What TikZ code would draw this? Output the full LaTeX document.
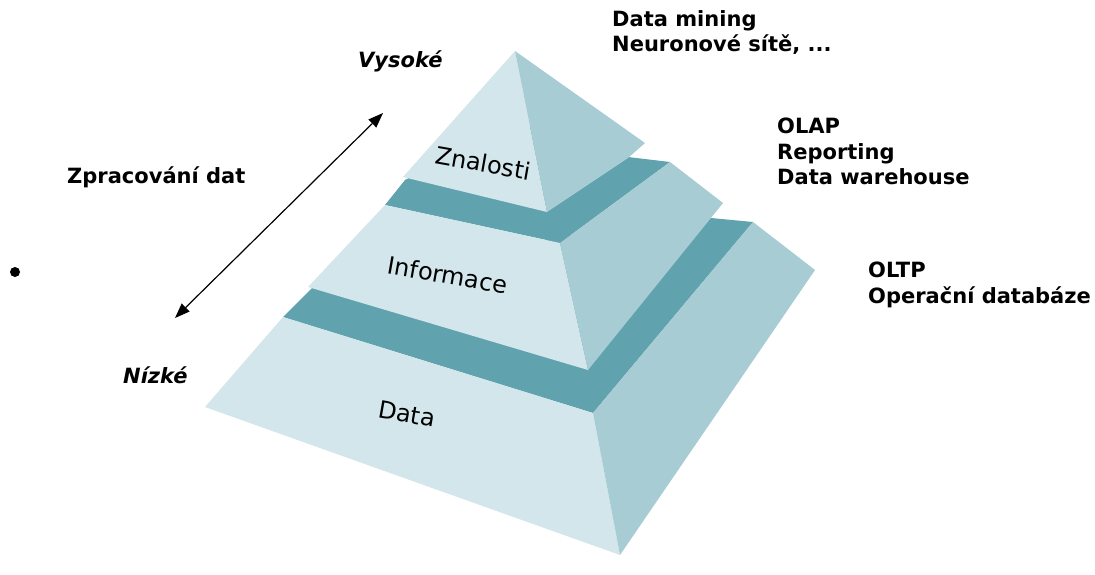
\documentclass[tikz,border=0pt]{standalone}
\usepackage{fontspec}
\setmainfont{DejaVu Sans}
\usepackage{tikz}
\usetikzlibrary{arrows.meta}
\definecolor{facelight}{RGB}{210,230,235}
\definecolor{faceside}{RGB}{168,204,211}
\definecolor{facedark}{RGB}{96,162,174}

\begin{document}
\begin{tikzpicture}[x=1pt, y=-1pt,
  front/.style={fill=facelight},
  side/.style={fill=faceside},
  ledge/.style={fill=facedark},
  layer/.style={font=\fontsize{24}{28}\selectfont, rotate=-10, inner sep=0pt},
  note/.style={font=\fontsize{21}{25.5}\selectfont\bfseries, align=left, anchor=north west, inner sep=0pt},
  level/.style={font=\fontsize{21}{25}\selectfont\bfseries\itshape, anchor=base west, inner sep=0pt}]
\useasboundingbox (0,0) rectangle (1095,574);

% Data layer
\fill[ledge] (283,317) -- (593,413) -- (753,222) -- (711,218) -- (600,230) -- (320,280) -- cycle;
\fill[front] (283,317) -- (593,413) -- (620,555) -- (205,407) -- cycle;
\fill[side] (593,413) -- (753,222) -- (815,270) -- (620,555) -- cycle;

% Informace layer
\fill[ledge] (385,205) -- (560,243) -- (670,162) -- (628,157) -- (515,120) -- (405,180) -- cycle;
\fill[front] (385,205) -- (560,243) -- (588,370) -- (308,287) -- cycle;
\fill[side] (560,243) -- (670,162) -- (723,203) -- (588,370) -- cycle;

% Znalosti top
\fill[front] (515,51) -- (403,177) -- (547,212) -- cycle;
\fill[side] (515,51) -- (547,212) -- (628,158) -- (645,143) -- cycle;

% Layer labels
\node[layer] (znal) at (483,163) {Znalosti};
\node[layer] (info) at (448,275) {Informace};
\node[layer] (data) at (407,414) {Data};

% Processing axis
\node[level] (high) at (358,67) {Vysoké};
\node[level] (low) at (123,383) {Nízké};
\node[level, font=\fontsize{21}{25}\selectfont\bfseries] (proc) at (67,183) {Zpracování dat};
\coordinate (lo) at (175,318);
\coordinate (hi) at (383,113);
\draw[{Triangle[length=15pt,width=11pt]}-{Triangle[length=15pt,width=11pt]}, line width=1.2pt] (lo) -- (hi);

% Notes on the right
\node[note] (dm) at (612,10) {Data mining\\Neuronové sítě, ...};
\node[note] (olap) at (777,118) {OLAP\\Reporting\\Data warehouse};
\node[note] (oltp) at (868,262) {OLTP\\Operační databáze};

% Bullet
\node[circle, fill, inner sep=0pt, minimum size=10pt] (dot) at (15,272) {};

\end{tikzpicture}
\end{document}
